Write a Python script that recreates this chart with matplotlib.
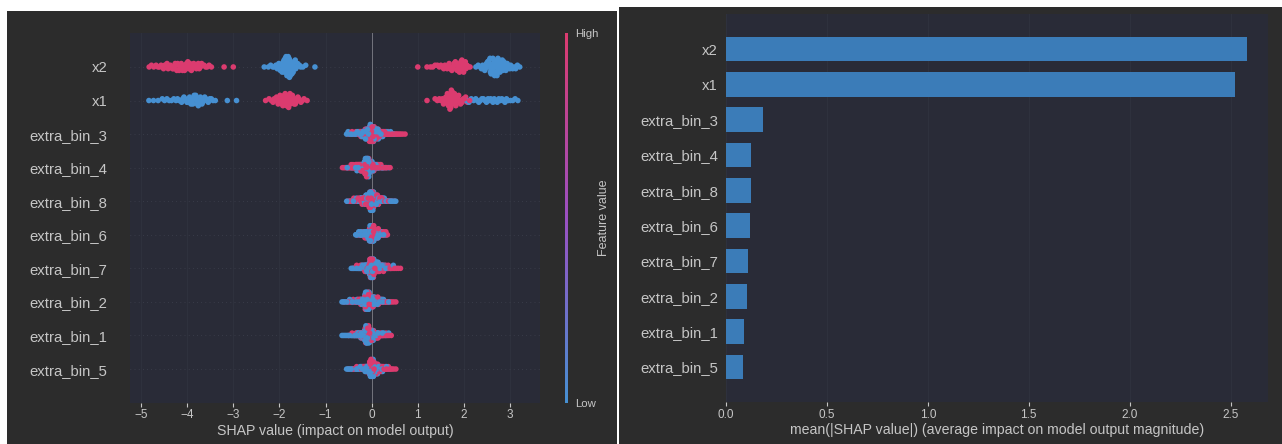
import numpy as np
import matplotlib
matplotlib.use("Agg")
import matplotlib.pyplot as plt
from matplotlib.colors import LinearSegmentedColormap, Normalize
from matplotlib.cm import ScalarMappable
from matplotlib.patches import Rectangle

# ---------------------------------------------------------------- data
features = ["x2", "x1", "extra_bin_3", "extra_bin_4", "extra_bin_8",
            "extra_bin_6", "extra_bin_7", "extra_bin_2", "extra_bin_1", "extra_bin_5"]

mean_abs_shap = [2.58, 2.52, 0.185, 0.125, 0.122, 0.118, 0.110, 0.105, 0.090, 0.082]

x_ticks_left = [-5, -4, -3, -2, -1, 0, 1, 2, 3]
x_ticks_right = [0.0, 0.5, 1.0, 1.5, 2.0, 2.5]

BIN_WIDTH = 0.1
# SHAP-value histograms: (centre of first 0.1-wide bin, sample counts per bin)
shap_high = {
    "x2": [(-4.8, [2, 2, 3, 4, 4, 5, 6, 7, 7, 6, 5, 4, 3, 2]),
           (-3.2, [1, 0, 1]),
           (1.0, [1, 0, 1, 2, 2, 3, 4, 5, 7, 10, 8, 3])],
    "x1": [(-2.3, [1, 2, 4, 7, 10, 11, 8, 5, 3, 1]),
           (1.2, [1, 0, 2, 3, 6, 16, 10, 7, 4, 2])],
    "extra_bin_3": [(-0.5, [1, 2, 4, 8, 14, 26, 18, 12, 8, 6, 4, 3, 2])],
    "extra_bin_4": [(-0.6, [3, 5, 8, 11, 14, 24, 12, 8, 5, 3, 1])],
    "extra_bin_8": [(-0.5, [2, 4, 6, 10, 16, 28, 14, 9, 5, 3, 1])],
    "extra_bin_6": [(-0.3, [2, 4, 12, 34, 24, 14, 6])],
    "extra_bin_7": [(-0.4, [1, 2, 5, 10, 28, 18, 12, 8, 5, 3, 2])],
    "extra_bin_2": [(-0.6, [1, 2, 3, 5, 10, 30, 20, 14, 9, 5, 3, 2])],
    "extra_bin_1": [(-0.6, [0, 1, 2, 5, 10, 30, 22, 14, 7, 4, 2])],
    "extra_bin_5": [(-0.5, [1, 1, 2, 5, 10, 30, 22, 14, 8, 4, 2])],
}
shap_low = {
    "x2": [(-2.3, [1, 2, 3, 6, 12, 18, 11, 5, 2, 1]),
           (-1.2, [1]),
           (2.3, [2, 4, 8, 13, 15, 10, 7, 5, 3, 2])],
    "x1": [(-4.8, [1, 1, 1, 2, 2, 2, 3, 4, 5, 7, 9, 6, 4, 3, 2]),
           (-3.1, [1, 0, 1]),
           (2.1, [2, 2, 3, 3, 3, 4, 3, 3, 3, 2, 2, 1])],
    "extra_bin_3": [(-0.5, [3, 5, 8, 12, 18, 30, 16, 8, 4, 2, 1, 0, 0])],
    "extra_bin_4": [(-0.6, [0, 1, 3, 7, 14, 36, 18, 8, 4, 2, 1])],
    "extra_bin_8": [(-0.5, [2, 4, 6, 10, 16, 32, 16, 9, 5, 4, 3])],
    "extra_bin_6": [(-0.3, [6, 14, 22, 40, 16, 6, 2])],
    "extra_bin_7": [(-0.4, [3, 5, 10, 16, 34, 16, 8, 4, 2, 1, 0])],
    "extra_bin_2": [(-0.6, [3, 3, 4, 7, 12, 34, 18, 10, 6, 3, 1, 0])],
    "extra_bin_1": [(-0.6, [3, 3, 5, 8, 14, 36, 18, 9, 4, 2, 1])],
    "extra_bin_5": [(-0.5, [3, 4, 5, 9, 16, 36, 12, 6, 3, 1, 0])],
}

# ---------------------------------------------------------------- style
plt.rcParams["font.family"] = ["Liberation Sans", "DejaVu Sans"]
TEXT = "#c6c6c6"
PANEL_BG = "#2c2c2c"
AXES_BG = "#292b37"
BAR_COLOR = "#3b7cb8"
shap_cmap = LinearSegmentedColormap.from_list(
    "red_blue_dark", ["#4690d2", "#9a50c2", "#db3b6f"])

W, H = 1282, 444
fig = plt.figure(figsize=(W / 100, H / 100), dpi=100, facecolor="white")


def fx(px):
    return px / W


def fy(py):
    return 1 - py / H


def add_panel(x0, y0, x1, y1):
    fig.patches.append(Rectangle((fx(x0), fy(y1)), fx(x1 - x0), (y1 - y0) / H,
                                 transform=fig.transFigure, facecolor=PANEL_BG,
                                 edgecolor="none", zorder=-10))


def add_axes_px(x0, y0, x1, y1):
    return fig.add_axes([fx(x0), fy(y1), fx(x1 - x0), (y1 - y0) / H])


add_panel(7, 11, 617, 444)
add_panel(619, 7, 1282, 444)


def row_points(name):
    xs, cs = [], []
    for hist, fval, phase in ((shap_high[name], 1.0, 0.5), (shap_low[name], 0.0, 0.2)):
        for start, counts in hist:
            for i, n in enumerate(counts):
                centre = start + i * BIN_WIDTH
                for k in range(n):
                    xs.append(centre - BIN_WIDTH / 2 + (k + phase) * BIN_WIDTH / n)
                    cs.append(fval)
    return np.array(xs), np.array(cs)


def swarm_offsets(xs, row_height=0.4, nbins=100):
    n = len(xs)
    quant = np.round(nbins * (xs - xs.min()) / (xs.max() - xs.min() + 1e-8))
    tie = (np.arange(n) * 0.6180339887) % 1.0
    inds = np.lexsort((tie, quant))
    ys = np.zeros(n)
    layer, last = 0, None
    for ind in inds:
        if quant[ind] != last:
            layer = 0
        ys[ind] = np.ceil(layer / 2) * ((layer % 2) * 2 - 1)
        layer += 1
        last = quant[ind]
    ys *= 0.9 * (row_height / np.max(ys + 1))
    return ys


def style_axes(ax, ypad):
    ax.set_facecolor(AXES_BG)
    for s in ax.spines.values():
        s.set_visible(False)
    ax.tick_params(axis="x", colors=TEXT, labelsize=8.5, length=3, width=0.8, pad=1.5)
    ax.tick_params(axis="y", colors=TEXT, labelsize=10.7, length=0, pad=ypad)
    ax.set_axisbelow(True)


n = len(features)

# ---------------------------------------------------------------- beeswarm
ax1 = add_axes_px(130, 33.4, 540, 402.6)
style_axes(ax1, ypad=16.5)
ax1.axvline(0, color="#74757e", lw=0.7, zorder=1)
for i, name in enumerate(features):
    pos = n - 1 - i
    ax1.axhline(pos, color="#474a58", lw=0.5, dashes=(1, 5), zorder=0.5)
    xs, cs = row_points(name)
    ys = swarm_offsets(xs)
    order = np.argsort((np.arange(len(xs)) * 0.7548776662) % 1.0)
    ax1.scatter(xs[order], pos + ys[order], c=cs[order], cmap=shap_cmap, vmin=0, vmax=1,
                s=16, linewidths=0, zorder=3)
for t in x_ticks_left:
    ax1.axvline(t, color="#2e313d", lw=0.8, zorder=0.2)
ax1.set_xlim(-5.24, 3.65)
ax1.set_ylim(-1, n)
ax1.set_xticks(x_ticks_left)
ax1.set_yticks(range(n))
ax1.set_yticklabels(features[::-1])
ax1.set_xlabel("SHAP value (impact on model output)", fontsize=10.2, color=TEXT, labelpad=2)

cax = add_axes_px(565, 33.4, 568, 402.6)
cb = fig.colorbar(ScalarMappable(norm=Normalize(0, 1), cmap=shap_cmap), cax=cax, ticks=[0, 1])
cb.set_ticklabels(["Low", "High"])
cb.outline.set_visible(False)
cax.tick_params(length=0, labelsize=8.2, colors=TEXT, pad=5)
cb.set_label("Feature value", size=9, color=TEXT, labelpad=0)

# ---------------------------------------------------------------- mean |SHAP| bars
ax2 = add_axes_px(726, 13.7, 1268, 402.3)
style_axes(ax2, ypad=5.8)
for t in x_ticks_right:
    ax2.axvline(t, color="#2e313d", lw=0.8, zorder=0.2)
ax2.barh(np.arange(n)[::-1], mean_abs_shap, 0.7, color=BAR_COLOR, align="center", zorder=2)
ax2.set_xlim(0, 2.685)
ax2.set_ylim(-1, n)
ax2.set_xticks(x_ticks_right)
ax2.set_yticks(range(n))
ax2.set_yticklabels(features[::-1])
ax2.set_xlabel("mean(|SHAP value|) (average impact on model output magnitude)",
               fontsize=10.2, color=TEXT, labelpad=2)

fig.savefig("out.png", dpi=100, facecolor="white")
